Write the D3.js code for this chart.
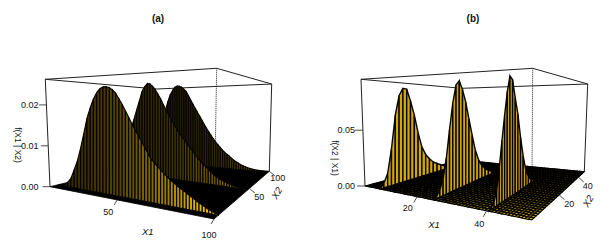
<!DOCTYPE html>
<html><head><meta charset="utf-8">
<script src="https://cdn.jsdelivr.net/npm/d3@7"></script>
<style>html,body{margin:0;padding:0;background:#fff}svg{display:block}text{font-family:"Liberation Sans",Arial,sans-serif;fill:#111}</style>
</head><body><svg id="c" width="609" height="251"></svg>
<script>
// Panel (a): f(X1 | X2) read along x1 at three x2 levels
const aX2Levels = [6, 48, 97];
const aRidge1 = [0,.0001,.0003,.0010,.0022,.0044,.0067,.0100,.0137,.0176,.0203,.0226,.0243,.0254,.0260,.0262,.0261,.0257,.0250,.0238,.0226,.0212,.0198,.0184,.0170,.0157,.0145,.0132,.0119,.0106,.0098,.0091,.0084,.0077,.0070,.0064,.0059,.0054,.0049,.0045,.0040,.0035,.0031,.0026,.0022,.0018,.0014,.0010,.0007,.0004,.0002];
const aRidge2 = [0,.0002,.0010,.0027,.0055,.0085,.0110,.0133,.0157,.0179,.0203,.0216,.0224,.0224,.0219,.0212,.0202,.0192,.0179,.0166,.0155,.0145,.0134,.0124,.0115,.0107,.0099,.0091,.0083,.0076,.0068,.0060,.0053,.0047,.0041,.0036,.0030,.0025,.0020,.0017,.0014,.0012,.0009,.0007,.0005,.0004,.0003,.0002,.0001,.0001,0];
const aRidge3 = [0,.0012,.0033,.0066,.0102,.0130,.0150,.0167,.0177,.0185,.0189,.0189,.0187,.0183,.0178,.0168,.0158,.0148,.0139,.0129,.0120,.0111,.0101,.0092,.0084,.0076,.0068,.0061,.0055,.0049,.0043,.0038,.0034,.0030,.0025,.0021,.0018,.0015,.0012,.0010,.0008,.0006,.0005,.0004,.0003,.0002,.0002,.0001,.0001,0,0];
const aGain = [1, .6, .38];
const aZTicks = [0, .01, .02];
const aX1Ticks = [50, 100];
const aX2Ticks = [50, 100];

// Panel (b): f(X2 | X1) read along x2 at three x1 levels
const bX1Levels = [5.8, 24.7, 40.5];
const bRidge1 = [.0003,.0041,.0120,.0332,.0622,.0786,.0840,.0822,.0706,.0571,.0401,.0263,.0185,.0135,.0096,.0072,.0051,.0030,.0012,.0006,.0003,0,0,0,0];
const bRidge2 = [.0003,.0018,.0063,.0150,.0323,.0568,.0792,.0939,.0963,.0870,.0745,.0580,.0422,.0272,.0173,.0111,.0072,.0042,.0021,.0003,0,0,0,0,0];
const bRidge3 = [.0001,.0018,.0054,.0138,.0335,.0559,.0768,.0960,.1085,.1035,.0858,.0697,.0472,.0287,.0147,.0072,.0030,.0009,0,0,0,0,0,0,0];
const bZTicks = [0, .05];
const bX1Ticks = [20, 40];
const bX2Ticks = [20, 40];

const svg = d3.select("#c");
const DARK = "#140f00", GOLD = "#e6b800";
const goldScale = d3.interpolateRgb(DARK, GOLD);

function makeProjector(p00, p10, p11, p01) {
  const ex0 = d3.scaleLinear().domain([0,1]).range([p00, p10].map(p=>p[0]));
  const ey0 = d3.scaleLinear().domain([0,1]).range([p00, p10].map(p=>p[1]));
  const ex1 = d3.scaleLinear().domain([0,1]).range([p01, p11].map(p=>p[0]));
  const ey1 = d3.scaleLinear().domain([0,1]).range([p01, p11].map(p=>p[1]));
  return (u, v, h=0) => [ex0(u)+(ex1(u)-ex0(u))*v, ey0(u)+(ey1(u)-ey0(u))*v - h];
}
const line = d3.line();

function drawBox(g, t, f) {
  const seg = (a,b,dotted) => {
    const l = g.append("path").attr("d", line([a,b])).attr("fill","none").attr("stroke","#222").attr("stroke-width",1);
    if (dotted) l.attr("stroke-dasharray","1,1");
  };
  seg(t.A,t.B); seg(t.B,t.C); seg(t.A,t.D); seg(t.D,t.C);
  seg(t.A,f.p00); seg(t.C,f.p11); seg(t.B,f.p10,true);
}

function tick(g, foot, dx, dy, label, lx, ly) {
  g.append("path").attr("d", line([foot,[foot[0]+dx,foot[1]+dy]])).attr("stroke","#222").attr("stroke-width",.8).attr("fill","none");
  g.append("text").attr("x",lx).attr("y",ly).attr("text-anchor","middle").attr("dominant-baseline","central").attr("font-size",9).text(label);
}
function axisTitle(g, s, x, y, rot, italic, size) {
  g.append("text").attr("transform",`translate(${x},${y}) rotate(${rot})`).attr("text-anchor","middle")
   .attr("dominant-baseline","central").attr("font-size",size).attr("font-style",italic?"italic":"normal").text(s);
}

// ---------- Panel (a)
{
  const g = svg.append("g");
  const f = {p00:[50,186.7],p10:[214,219],p11:[269.3,171.3],p01:[156.7,160.7]};
  const top = {A:[45.3,79.3],B:[216.7,68.3],C:[271.7,84],D:[156.7,89]};
  const proj = makeProjector(f.p00,f.p10,f.p11,f.p01);
  const uS = d3.scaleLinear().domain([0,50,100]).range([0,.41,1]);
  const vS = d3.scaleLinear().domain([0,50,100]).range([0,.64,1]);
  const zS = d3.scaleLinear().domain([0,.02]).range([0,81.8]);
  const iS = d3.scaleLinear().domain([0,aRidge1.length-1]).range([0,1]);
  drawBox(g,top,f);
  g.append("path").attr("d",line([f.p00,f.p10,f.p11,f.p01])+"Z").attr("fill","#000").attr("stroke","#000").attr("stroke-width",.8);
  [aRidge1,aRidge2,aRidge3].map((r,k)=>({r,k})).reverse().forEach(({r,k})=>{
    const v = vS(aX2Levels[k]);
    d3.pairs(r.map((z,i)=>({z,i}))).forEach(([a,b])=>{
      const u0=iS(a.i),u1=iS(b.i);
      g.append("path").attr("d",line([proj(u0,v,zS(a.z)),proj(u1,v,zS(b.z)),proj(u1,v),proj(u0,v)])+"Z")
       .attr("fill",goldScale(Math.min(1,aGain[k]*(.14+u0*u0*.95+u0*.15))))
       .attr("stroke","#060500").attr("stroke-width",1.15);
    });
  });
  aZTicks.forEach(z=>{
    const y = f.p00[1]-zS(z);
    const xe = 50 - 4.5*(zS(z)/107);
    g.append("path").attr("d",line([[xe-7.5,y],[xe,y]])).attr("stroke","#222").attr("stroke-width",.8);
    g.append("text").attr("x",38.5).attr("y",y).attr("text-anchor","end").attr("dominant-baseline","central").attr("font-size",9).text(d3.format(".2f")(z));
  });
  const xl = {50:[108.3,212.3],100:[209,235]}, x2l={50:[259.3,197.3],100:[277.7,178.3]};
  aX1Ticks.forEach(t=>tick(g,proj(uS(t),0),-3,5,t,...xl[t]));
  aX2Ticks.forEach(t=>tick(g,proj(1,vS(t)),5.5,4.5,t,...x2l[t]));
  axisTitle(g,"f(X1 | X2)",17.5,145,90,false,8.5);
  axisTitle(g,"X1",147.7,231.5,0,true,9.5);
  axisTitle(g,"X2",276.7,193,-60,true,9.5);
  g.append("text").attr("x",158).attr("y",18).attr("text-anchor","middle").attr("dominant-baseline","central").attr("font-size",10).attr("font-weight","bold").text("(a)");
}

// ---------- Panel (b)
{
  const g = svg.append("g");
  const f = {p00:[365,186],p10:[531.7,220],p11:[584.3,171.7],p01:[460,160]};
  const top = {A:[361,79.3],B:[532.7,68.3],C:[587.7,84],D:[461.7,88.3]};
  const proj = makeProjector(f.p00,f.p10,f.p11,f.p01);
  const uS = d3.scaleLinear().domain([0,20,40,50]).range([0,.3125,.729,1]);
  const vS = d3.scaleLinear().domain([0,20,40,46]).range([0,.52,.886,1]);
  const zS = d3.scaleLinear().domain([0,.05]).range([0,55.8]);
  const nV = bRidge1.length-1, nU = 50;
  const iS = d3.scaleLinear().domain([0,nV]).range([0,1]);
  const jS = d3.scaleLinear().domain([0,nU]).range([0,1]);
  drawBox(g,top,f);
  g.append("path").attr("d",line([f.p00,f.p10,f.p11,f.p01])+"Z").attr("fill","#000");
  d3.range(nV).reverse().forEach(i=>d3.range(nU).forEach(j=>{
    const u0=jS(j),u1=jS(j+1),v0=iS(i),v1=iS(i+1);
    g.append("path").attr("d",line([proj(u0,v0),proj(u1,v0),proj(u1,v1),proj(u0,v1)])+"Z")
     .attr("fill",goldScale(Math.min(1,.1+.9*u0*(1-v0)*(1-v0))))
     .attr("stroke","#000").attr("stroke-width",1.05);
  }));
  [bRidge1,bRidge2,bRidge3].forEach((r,k)=>{
    const u = uS(bX1Levels[k]);
    d3.pairs(r.map((z,i)=>({z,i}))).forEach(([a,b])=>{
      if (a.z===0 && b.z===0) return;
      const v0=iS(a.i),v1=iS(b.i);
      g.append("path").attr("d",line([proj(u,v0,zS(a.z)),proj(u,v1,zS(b.z)),proj(u,v1),proj(u,v0)])+"Z")
       .attr("fill",goldScale(.9)).attr("stroke","#060500").attr("stroke-width",1.4);
    });
  });
  bZTicks.forEach(z=>{
    const y = f.p00[1]-zS(z);
    const xe = 365 - 4*(zS(z)/107);
    g.append("path").attr("d",line([[xe-8,y],[xe,y]])).attr("stroke","#222").attr("stroke-width",.8);
    g.append("text").attr("x",355).attr("y",y).attr("text-anchor","end").attr("dominant-baseline","central").attr("font-size",9).text(d3.format(".2f")(z));
  });
  const xl = {20:[407.7,207.7],40:[479.3,224]}, x2l={20:[569.3,204],40:[587.7,185.7]};
  bX1Ticks.forEach(t=>tick(g,proj(uS(t),0),-3.3,6,t,...xl[t]));
  bX2Ticks.forEach(t=>tick(g,proj(1,vS(t)),5.5,4.8,t,...x2l[t]));
  axisTitle(g,"f(X2 | X1)",335,158,90,false,8.5);
  axisTitle(g,"X1",434,224,0,true,9.5);
  axisTitle(g,"X2",588,201,-60,true,9.5);
  g.append("text").attr("x",473).attr("y",18).attr("text-anchor","middle").attr("dominant-baseline","central").attr("font-size",10).attr("font-weight","bold").text("(b)");
}
</script></body></html>
